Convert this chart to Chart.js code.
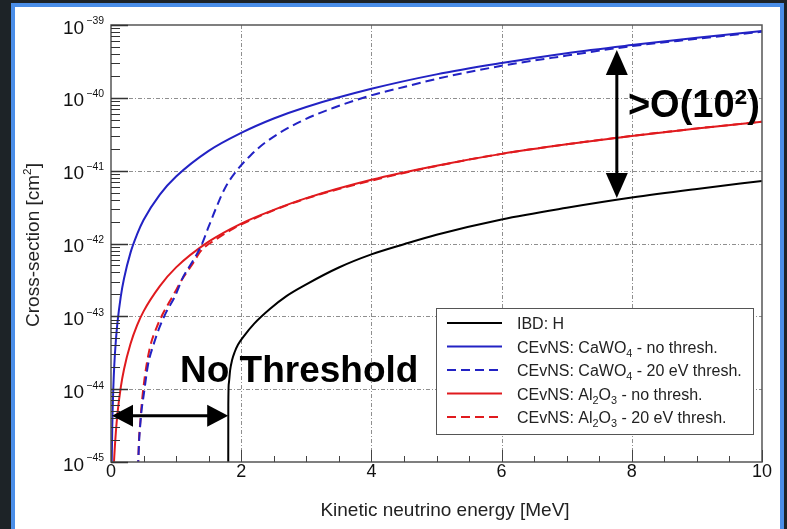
<!DOCTYPE html>
<html>
<head>
<meta charset="utf-8">
<script src="https://cdn.jsdelivr.net/npm/chart.js@4.4.1/dist/chart.umd.min.js"></script>
<style>
  html, body { margin: 0; padding: 0; background: #1d2327; overflow: hidden; }
  #panel { position: absolute; left: 11px; top: 3px; width: 765px; height: 540px; background: #fff; border: 4px solid #4a8ee8; }
  #chart { position: absolute; left: 0; top: 0; }
</style>
</head>
<body>
<div id="panel"></div>
<canvas id="chart" width="787" height="529"></canvas>
<script>
// neutrino energy [MeV] and cross-section [cm^2] per channel
const ibdE = [1.8, 1.802, 1.81, 1.83, 1.86, 1.9, 1.95, 2.03, 2.2, 2.44, 2.7, 3, 3.5, 4, 4.5, 5, 6, 7, 8, 9, 10];
const ibdSigma = [1e-46, 6e-45, 1.2e-44, 1.82e-44, 2.51e-44, 3.24e-44, 4.07e-44, 5.19e-44, 7.94e-44, 1.26e-43, 1.91e-43, 2.75e-43, 4.68e-43, 7.08e-43, 9.77e-43, 1.32e-42, 2.14e-42, 3.09e-42, 4.27e-42, 5.62e-42, 7.24e-42];

const cawoE = [0.005, 0.01, 0.02, 0.035, 0.05, 0.075, 0.1, 0.15, 0.2, 0.3, 0.4, 0.5, 0.75, 1, 1.5, 2, 2.5, 3, 4, 5, 6, 7, 8, 9, 10];
const cawoSigma = [2.1e-46, 8.3e-46, 3.3e-45, 1.0e-44, 2.1e-44, 4.7e-44, 8.3e-44, 1.87e-43, 3.3e-43, 7.5e-43, 1.33e-42, 2.1e-42, 4.7e-42, 8.3e-42, 1.87e-41, 3.3e-41, 5.2e-41, 7.5e-41, 1.33e-40, 2.1e-40, 3.0e-40, 4.1e-40, 5.3e-40, 6.7e-40, 8.3e-40];

const cawoThrE = [0.415, 0.43, 0.45, 0.47, 0.5, 0.57, 0.65, 0.73, 0.85, 0.98, 1.11, 1.25, 1.39, 1.5, 1.62, 1.75, 1.93, 2.15, 2.39, 2.9, 3.41, 3.98, 4.5, 5, 6, 7, 8, 9, 10];
const cawoThrSigma = [8e-46, 1.8e-45, 3.3e-45, 5.2e-45, 8e-45, 2.2e-44, 4.0e-44, 6.5e-44, 1.15e-43, 1.86e-43, 3.5e-43, 5.6e-43, 9.5e-43, 1.7e-42, 3.16e-42, 5.75e-42, 1.0e-41, 1.64e-41, 2.51e-41, 4.68e-41, 7.24e-41, 1.07e-40, 1.41e-40, 1.82e-40, 2.75e-40, 3.8e-40, 5.13e-40, 6.46e-40, 8.1e-40];

const aloE = [0.02, 0.035, 0.05, 0.075, 0.1, 0.15, 0.2, 0.3, 0.4, 0.5, 0.75, 1, 1.5, 2, 2.5, 3, 4, 5, 6, 7, 8, 9, 10];
const aloSigma = [1.9e-46, 5.8e-46, 1.17e-45, 2.6e-45, 4.7e-45, 1.06e-44, 1.88e-44, 4.2e-44, 7.5e-44, 1.17e-43, 2.6e-43, 4.7e-43, 1.06e-42, 1.88e-42, 2.9e-42, 4.2e-42, 7.5e-42, 1.17e-41, 1.7e-41, 2.3e-41, 3.0e-41, 3.8e-41, 4.7e-41];

const aloThrE = [0.415, 0.43, 0.45, 0.47, 0.52, 0.6, 0.7, 0.8, 0.95, 1.09, 1.25, 1.39, 1.6, 1.88, 2.2, 2.6, 3, 4, 5, 6, 7, 8, 9, 10];
const aloThrSigma = [8e-46, 2e-45, 3.5e-45, 6e-45, 1.5e-44, 3.8e-44, 7e-44, 1.1e-43, 1.9e-43, 3.2e-43, 5.2e-43, 8.1e-43, 1.12e-42, 1.6e-42, 2.2e-42, 3.1e-42, 4.15e-42, 7.3e-42, 1.16e-41, 1.7e-41, 2.3e-41, 3.0e-41, 3.8e-41, 4.7e-41];

// axes
const xTicks = [0, 2, 4, 6, 8, 10];
const yExponents = [-45, -44, -43, -42, -41, -40, -39];

// annotations (data coordinates)
const noThreshArrow = { x0: 0, x1: 1.8, y: 4.3e-45 };
const gapArrow = { x: 7.77, y0: 4.54e-40, y1: 4.2e-42 };
const noThreshText = { x: 1.06, y: 1.26e-44, text: 'No Threshold' };
const gapText = { x: 7.94, y: 5.44e-41, text: '>O(10\u00b2)' };

const FONT = '"Liberation Sans", Arial, Helvetica, sans-serif';

function series(label, xs, ys, color, dash) {
  return {
    label: label,
    data: xs.map((x, i) => ({ x: x, y: ys[i] })),
    borderColor: color,
    borderWidth: 2,
    borderDash: dash || [],
    pointRadius: 0,
    cubicInterpolationMode: 'monotone',
    fill: false
  };
}

// text with ^{..} and _{..} pieces, ROOT style
function richText(ctx, str, x, y, size, align, opts) {
  opts = opts || {};
  const scale = opts.scale || 0.68;
  const parts = [];
  const re = /([\^_])\{([^}]*)\}/g;
  let last = 0, m;
  while ((m = re.exec(str))) {
    if (m.index > last) parts.push({ t: str.slice(last, m.index), k: '' });
    parts.push({ t: m[2], k: m[1] });
    last = re.lastIndex;
  }
  if (last < str.length) parts.push({ t: str.slice(last), k: '' });
  const font = s => (opts.weight || '') + ' ' + s + 'px ' + FONT;
  let w = 0;
  parts.forEach(p => {
    p.s = p.k ? size * scale : size;
    ctx.font = font(p.s);
    p.gap = p.k === '^' ? size * (opts.supGap || 0) : 0;
    p.w = ctx.measureText(p.t).width + p.gap;
    w += p.w;
  });
  let cx = align === 'right' ? x - w : align === 'center' ? x - w / 2 : x;
  ctx.textAlign = 'left';
  ctx.textBaseline = 'alphabetic';
  parts.forEach(p => {
    ctx.font = font(p.s);
    const dy = p.k === '^' ? -size * (opts.supRise || 0.4) : p.k === '_' ? size * 0.25 : 0;
    ctx.fillText(p.t, cx + p.gap, y + dy);
    cx += p.w;
  });
}

function seg(ctx, x0, y0, x1, y1) {
  ctx.beginPath();
  ctx.moveTo(x0, y0);
  ctx.lineTo(x1, y1);
  ctx.stroke();
}

function arrowHead(ctx, tipX, tipY, dirX, dirY, len, half) {
  const bx = tipX - dirX * len, by = tipY - dirY * len;
  ctx.beginPath();
  ctx.moveTo(tipX, tipY);
  ctx.lineTo(bx - dirY * half, by + dirX * half);
  ctx.lineTo(bx + dirY * half, by - dirX * half);
  ctx.closePath();
  ctx.fill();
}

const rootAxes = {
  id: 'rootAxes',
  beforeDatasetsDraw(chart) {
    const { ctx, chartArea: a, scales: { x, y } } = chart;
    ctx.save();
    ctx.strokeStyle = '#8f8f8f';
    ctx.lineWidth = 1;
    ctx.setLineDash([4, 2, 1, 2]);
    xTicks.slice(1, -1).forEach(v => {
      const px = Math.round(x.getPixelForValue(v)) + 0.5;
      seg(ctx, px, a.top, px, a.bottom);
    });
    yExponents.slice(1, -1).forEach(e => {
      const py = Math.round(y.getPixelForValue(Math.pow(10, e))) + 0.5;
      seg(ctx, a.left, py, a.right, py);
    });
    ctx.restore();
  },
  afterDatasetsDraw(chart) {
    const { ctx, chartArea: a, scales: { x, y } } = chart;
    ctx.save();

    // frame
    ctx.strokeStyle = '#555';
    ctx.lineWidth = 1.5;
    ctx.strokeRect(a.left, a.top, a.right - a.left, a.bottom - a.top);

    // y ticks: decades and 2..9 minors
    ctx.strokeStyle = '#333';
    yExponents.forEach((e, i) => {
      const py = Math.round(y.getPixelForValue(Math.pow(10, e))) + 0.5;
      ctx.lineWidth = 1.5;
      seg(ctx, a.left, py, a.left + 17, py);
      if (i < yExponents.length - 1) {
        ctx.lineWidth = 1;
        for (let k = 2; k <= 9; k++) {
          const pm = Math.round(y.getPixelForValue(k * Math.pow(10, e))) + 0.5;
          seg(ctx, a.left, pm, a.left + 9, pm);
        }
      }
    });

    // x ticks every 0.5 MeV
    ctx.strokeStyle = '#444';
    ctx.lineWidth = 1;
    for (let v = 0; v <= 10; v += 0.5) {
      const px = Math.round(x.getPixelForValue(v)) + 0.5;
      const len = v % 2 === 0 ? 12 : 6;
      seg(ctx, px, a.bottom, px, a.bottom - len);
    }

    // tick labels
    ctx.fillStyle = '#111';
    yExponents.forEach(e => {
      const py = y.getPixelForValue(Math.pow(10, e));
      richText(ctx, '10^{\u2212' + (-e) + '}', a.left - 7, py + 8.5, 19, 'right', { scale: 0.55, supRise: 0.48, supGap: 0.12 });
    });
    xTicks.forEach(v => {
      richText(ctx, String(v), x.getPixelForValue(v), a.bottom + 15, 18, 'center');
    });

    // axis titles
    ctx.fillStyle = '#222';
    richText(ctx, 'Kinetic neutrino energy [MeV]', 445, 516, 19, 'center');
    ctx.save();
    ctx.translate(39, 245);
    ctx.rotate(-Math.PI / 2);
    richText(ctx, 'Cross-section [cm^{2}]', 0, 0, 19, 'center', { scale: 0.62, supRise: 0.42 });
    ctx.restore();

    // legend
    const lx = 436, ly = 308, lw = 317, lh = 126;
    ctx.fillStyle = '#fff';
    ctx.fillRect(lx, ly, lw, lh);
    ctx.strokeStyle = '#555';
    ctx.lineWidth = 1;
    ctx.strokeRect(lx + 0.5, ly + 0.5, lw, lh);
    chart.data.datasets.forEach((ds, i) => {
      const ry = ly + 15 + i * 23.5;
      ctx.strokeStyle = ds.borderColor;
      ctx.lineWidth = 2;
      ctx.setLineDash(ds.borderDash);
      seg(ctx, lx + 11, ry, lx + 66, ry);
      ctx.setLineDash([]);
      ctx.fillStyle = '#222';
      richText(ctx, ds.label, lx + 81, ry + 6, 16, 'left', { scale: 0.68 });
    });

    // arrows
    ctx.strokeStyle = '#000';
    ctx.fillStyle = '#000';
    ctx.lineWidth = 3;
    const hx0 = x.getPixelForValue(noThreshArrow.x0), hx1 = x.getPixelForValue(noThreshArrow.x1);
    const hy = y.getPixelForValue(noThreshArrow.y);
    seg(ctx, hx0 + 10, hy, hx1 - 10, hy);
    arrowHead(ctx, hx0 + 1, hy, -1, 0, 21, 11);
    arrowHead(ctx, hx1, hy, 1, 0, 21, 11);

    const vx = x.getPixelForValue(gapArrow.x);
    const vy0 = y.getPixelForValue(gapArrow.y0), vy1 = y.getPixelForValue(gapArrow.y1);
    seg(ctx, vx, vy0 + 10, vx, vy1 - 10);
    arrowHead(ctx, vx, vy0, 0, -1, 25, 11);
    arrowHead(ctx, vx, vy1, 0, 1, 25, 11);

    // annotation labels
    ctx.fillStyle = '#000';
    richText(ctx, noThreshText.text, x.getPixelForValue(noThreshText.x), y.getPixelForValue(noThreshText.y), 37, 'left', { weight: 'bold' });
    richText(ctx, gapText.text, x.getPixelForValue(gapText.x), y.getPixelForValue(gapText.y), 38, 'left', { weight: 'bold' });

    ctx.restore();
  }
};

new Chart(document.getElementById('chart'), {
  type: 'line',
  data: {
    datasets: [
      series('IBD: H', ibdE, ibdSigma, '#000000'),
      series('CEvNS: CaWO_{4} - no thresh.', cawoE, cawoSigma, '#2222c4'),
      series('CEvNS: CaWO_{4} - 20 eV thresh.', cawoThrE, cawoThrSigma, '#2222c4', [9, 5]),
      series('CEvNS: Al_{2}O_{3} - no thresh.', aloE, aloSigma, '#e01a1e'),
      series('CEvNS: Al_{2}O_{3} - 20 eV thresh.', aloThrE, aloThrSigma, '#e01a1e', [9, 5])
    ]
  },
  options: {
    responsive: false,
    animation: false,
    layout: { padding: { left: 111, top: 25, right: 25, bottom: 67 } },
    scales: {
      x: { type: 'linear', min: 0, max: 10, display: false },
      y: { type: 'logarithmic', min: 1e-45, max: 1e-39, display: false }
    },
    plugins: {
      legend: { display: false },
      tooltip: { enabled: false }
    }
  },
  plugins: [rootAxes]
});
</script>
</body>
</html>
